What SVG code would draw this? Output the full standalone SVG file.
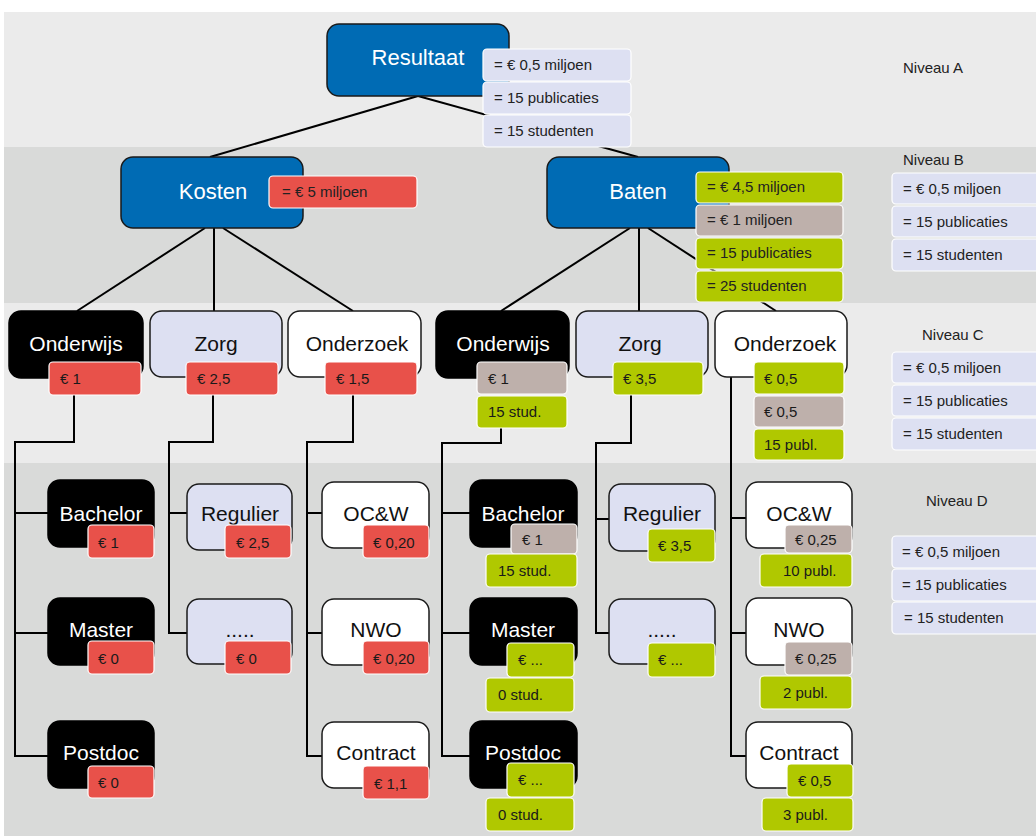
<svg xmlns="http://www.w3.org/2000/svg" width="1036" height="836" viewBox="0 0 1036 836">
<style>
.bl{fill:#ebebeb}.bd{fill:#d9dad9}
.blue{fill:#006bb4;stroke:#1a1a1a;stroke-width:1.5}
.blk{fill:#000;stroke:#000;stroke-width:1.5}
.lav{fill:#dde0f2;stroke:#1a1a1a;stroke-width:1.5}
.wht{fill:#fff;stroke:#1a1a1a;stroke-width:1.5}
.red{fill:#e8514a;stroke:#fff;stroke-width:1.2}
.grn{fill:#b0c800;stroke:#fff;stroke-width:1.2}
.tpe{fill:#beb0ab;stroke:#fff;stroke-width:1.2}
.leg{fill:#dde0f2;stroke:#fff;stroke-width:1.2}
text{font-family:"Liberation Sans",Arial,sans-serif}
.tw{fill:#fff;font-size:21px;text-anchor:middle}
.tb{fill:#111;font-size:21px;text-anchor:middle}
.tbig{fill:#fff;font-size:22px;text-anchor:middle}
.tv{fill:#1a1a1a;font-size:15px}
.tl{fill:#222;font-size:15px}
.con{fill:none;stroke:#000;stroke-width:2}
</style>
<rect x="0" y="0" width="1036" height="836" fill="#fff"/>
<g id="bands">
<rect class="bl" x="4" y="12" width="1032" height="135"/>
<rect class="bd" x="4" y="147" width="1032" height="156"/>
<rect class="bl" x="4" y="303" width="1032" height="160"/>
<rect class="bd" x="4" y="463" width="1032" height="373"/>
</g>
<g id="connectors">
<line class="con" x1="418" y1="96" x2="210" y2="157"/>
<line class="con" x1="418" y1="96" x2="638" y2="157"/>
<line class="con" x1="205" y1="228" x2="77" y2="311"/>
<line class="con" x1="214" y1="228" x2="214" y2="311"/>
<line class="con" x1="223" y1="228" x2="353" y2="311"/>
<line class="con" x1="630" y1="228" x2="501" y2="311"/>
<line class="con" x1="639" y1="228" x2="639" y2="311"/>
<line class="con" x1="648" y1="228" x2="776" y2="311"/>
<polyline class="con" points="74,395 74,442 15,442 15,756 48,756"/>
<line class="con" x1="15" y1="513" x2="48" y2="513"/>
<line class="con" x1="15" y1="633" x2="48" y2="633"/>
<polyline class="con" points="213,395 213,442 169,442 169,633 187,633"/>
<line class="con" x1="169" y1="513" x2="187" y2="513"/>
<polyline class="con" points="353,395 353,442 307,442 307,756 322,756"/>
<line class="con" x1="307" y1="513" x2="322" y2="513"/>
<line class="con" x1="307" y1="633" x2="322" y2="633"/>
<polyline class="con" points="501,428 501,443 442,443 442,756 470,756"/>
<line class="con" x1="442" y1="513" x2="470" y2="513"/>
<line class="con" x1="442" y1="633" x2="470" y2="633"/>
<polyline class="con" points="631,395 631,443 596,443 596,633 609,633"/>
<line class="con" x1="596" y1="519" x2="609" y2="519"/>
<polyline class="con" points="731,377 731,756 746,756"/>
<line class="con" x1="731" y1="518" x2="746" y2="518"/>
<line class="con" x1="731" y1="633" x2="746" y2="633"/>
</g>
<g id="resultaat">
<rect class="blue" x="327" y="24" width="182" height="72" rx="12"/>
<text class="tbig" x="418" y="65">Resultaat</text>
<rect class="leg" x="483" y="49" width="148" height="32" rx="4"/>
<rect class="leg" x="483" y="82" width="148" height="32" rx="4"/>
<rect class="leg" x="483" y="115" width="148" height="32" rx="4"/>
<text class="tl" x="494" y="70">= € 0,5 miljoen</text>
<text class="tl" x="494" y="103">= 15 publicaties</text>
<text class="tl" x="494" y="136">= 15 studenten</text>
</g>
<g id="kosten">
<rect class="blue" x="121" y="157" width="182" height="71" rx="12"/>
<text class="tbig" x="213" y="199">Kosten</text>
<rect class="red" x="269" y="176" width="148" height="32" rx="4"/>
<text class="tl" x="282" y="197">= € 5 miljoen</text>
</g>
<g id="baten">
<rect class="blue" x="547" y="157" width="182" height="71" rx="12"/>
<text class="tbig" x="638" y="199">Baten</text>
<rect class="grn" x="696" y="172" width="147" height="31" rx="4"/>
<rect class="tpe" x="696" y="205" width="147" height="31" rx="4"/>
<rect class="grn" x="696" y="238" width="147" height="31" rx="4"/>
<rect class="grn" x="696" y="271" width="147" height="31" rx="4"/>
<text class="tl" x="707" y="192">= € 4,5 miljoen</text>
<text class="tl" x="707" y="225">= € 1 miljoen</text>
<text class="tl" x="707" y="258">= 15 publicaties</text>
<text class="tl" x="707" y="291">= 25 studenten</text>
</g>
<g id="onderwijs-k">
<rect class="blk" x="9" y="311" width="134" height="67" rx="12"/>
<text class="tw" x="76" y="351">Onderwijs</text>
<rect class="red" x="49" y="362" width="92" height="33" rx="4"/>
<text class="tv" x="60" y="384">€ 1</text>
</g>
<g id="zorg-k">
<rect class="lav" x="150" y="311" width="132" height="66" rx="12"/>
<text class="tb" x="216" y="351">Zorg</text>
<rect class="red" x="186" y="362" width="92" height="33" rx="4"/>
<text class="tv" x="197" y="384">€ 2,5</text>
</g>
<g id="onderzoek-k">
<rect class="wht" x="288" y="311" width="133" height="66" rx="12"/>
<text class="tb" x="357" y="351">Onderzoek</text>
<rect class="red" x="325" y="362" width="92" height="33" rx="4"/>
<text class="tv" x="336" y="384">€ 1,5</text>
</g>
<g id="onderwijs-b">
<rect class="blk" x="436" y="311" width="133" height="67" rx="12"/>
<text class="tw" x="503" y="351">Onderwijs</text>
<rect class="tpe" x="477" y="362" width="90" height="32" rx="4"/>
<text class="tv" x="488" y="384">€ 1</text>
<rect class="grn" x="477" y="396" width="90" height="32" rx="4"/>
<text class="tv" x="488" y="417">15 stud.</text>
</g>
<g id="zorg-b">
<rect class="lav" x="576" y="311" width="132" height="66" rx="12"/>
<text class="tb" x="640" y="351">Zorg</text>
<rect class="grn" x="613" y="362" width="90" height="33" rx="4"/>
<text class="tv" x="623" y="384">€ 3,5</text>
</g>
<g id="onderzoek-b">
<rect class="wht" x="715" y="311" width="132" height="66" rx="12"/>
<text class="tb" x="785" y="351">Onderzoek</text>
<rect class="grn" x="754" y="362" width="90" height="32" rx="4"/>
<text class="tv" x="764" y="384">€ 0,5</text>
<rect class="tpe" x="754" y="396" width="90" height="31" rx="4"/>
<text class="tv" x="764" y="417">€ 0,5</text>
<rect class="grn" x="754" y="429" width="90" height="31" rx="4"/>
<text class="tv" x="764" y="450">15 publ.</text>
</g>
<g id="bachelor-k">
<rect class="blk" x="48" y="480" width="106" height="67" rx="12"/>
<text class="tw" x="101" y="521">Bachelor</text>
<rect class="red" x="88" y="525" width="66" height="33" rx="4"/>
<text class="tv" x="98" y="548">€ 1</text>
</g>
<g id="master-k">
<rect class="blk" x="48" y="598" width="106" height="67" rx="12"/>
<text class="tw" x="101" y="637">Master</text>
<rect class="red" x="88" y="641" width="66" height="33" rx="4"/>
<text class="tv" x="98" y="664">€ 0</text>
</g>
<g id="postdoc-k">
<rect class="blk" x="48" y="721" width="106" height="67" rx="12"/>
<text class="tw" x="101" y="760">Postdoc</text>
<rect class="red" x="88" y="766" width="66" height="32" rx="4"/>
<text class="tv" x="98" y="788">€ 0</text>
</g>
<g id="regulier-k">
<rect class="lav" x="187" y="484" width="105" height="66" rx="12"/>
<text class="tb" x="240" y="521">Regulier</text>
<rect class="red" x="225" y="525" width="66" height="33" rx="4"/>
<text class="tv" x="236" y="548">€ 2,5</text>
</g>
<g id="overig-k">
<rect class="lav" x="187" y="599" width="105" height="65" rx="12"/>
<text class="tb" x="240" y="637">.....</text>
<rect class="red" x="225" y="641" width="66" height="33" rx="4"/>
<text class="tv" x="236" y="664">€ 0</text>
</g>
<g id="ocw-k">
<rect class="wht" x="322" y="482" width="107" height="66" rx="12"/>
<text class="tb" x="376" y="521">OC&amp;W</text>
<rect class="red" x="363" y="525" width="66" height="33" rx="4"/>
<text class="tv" x="373" y="548">€ 0,20</text>
</g>
<g id="nwo-k">
<rect class="wht" x="322" y="599" width="107" height="66" rx="12"/>
<text class="tb" x="376" y="637">NWO</text>
<rect class="red" x="363" y="641" width="66" height="33" rx="4"/>
<text class="tv" x="373" y="664">€ 0,20</text>
</g>
<g id="contract-k">
<rect class="wht" x="322" y="722" width="107" height="66" rx="12"/>
<text class="tb" x="376" y="760">Contract</text>
<rect class="red" x="363" y="766" width="66" height="33" rx="4"/>
<text class="tv" x="374" y="789">€ 1,1</text>
</g>
<g id="bachelor-b">
<rect class="blk" x="470" y="480" width="107" height="67" rx="12"/>
<text class="tw" x="523" y="521">Bachelor</text>
<rect class="tpe" x="511" y="524" width="66" height="30" rx="4"/>
<text class="tv" x="522" y="545">€ 1</text>
<rect class="grn" x="486" y="554" width="91" height="33" rx="4"/>
<text class="tv" x="498" y="576">15 stud.</text>
</g>
<g id="master-b">
<rect class="blk" x="470" y="598" width="107" height="67" rx="12"/>
<text class="tw" x="523" y="637">Master</text>
<rect class="grn" x="507" y="643" width="67" height="34" rx="4"/>
<text class="tv" x="518" y="665">€ ...</text>
<rect class="grn" x="486" y="678" width="88" height="34" rx="4"/>
<text class="tv" x="498" y="700">0 stud.</text>
</g>
<g id="postdoc-b">
<rect class="blk" x="470" y="721" width="107" height="67" rx="12"/>
<text class="tw" x="523" y="760">Postdoc</text>
<rect class="grn" x="507" y="763" width="67" height="34" rx="4"/>
<text class="tv" x="518" y="785">€ ...</text>
<rect class="grn" x="486" y="798" width="88" height="33" rx="4"/>
<text class="tv" x="498" y="820">0 stud.</text>
</g>
<g id="regulier-b">
<rect class="lav" x="609" y="484" width="106" height="67" rx="12"/>
<text class="tb" x="662" y="521">Regulier</text>
<rect class="grn" x="648" y="529" width="67" height="33" rx="4"/>
<text class="tv" x="658" y="551">€ 3,5</text>
</g>
<g id="overig-b">
<rect class="lav" x="609" y="599" width="106" height="65" rx="12"/>
<text class="tb" x="662" y="637">.....</text>
<rect class="grn" x="648" y="643" width="67" height="34" rx="4"/>
<text class="tv" x="658" y="665">€ ...</text>
</g>
<g id="ocw-b">
<rect class="wht" x="746" y="482" width="106" height="66" rx="12"/>
<text class="tb" x="799" y="521">OC&amp;W</text>
<rect class="tpe" x="785" y="525" width="67" height="28" rx="4"/>
<text class="tv" x="795" y="545">€ 0,25</text>
<rect class="grn" x="760" y="554" width="92" height="33" rx="4"/>
<text class="tv" x="783" y="576">10 publ.</text>
</g>
<g id="nwo-b">
<rect class="wht" x="746" y="598" width="106" height="67" rx="12"/>
<text class="tb" x="799" y="637">NWO</text>
<rect class="tpe" x="785" y="642" width="67" height="33" rx="4"/>
<text class="tv" x="795" y="664">€ 0,25</text>
<rect class="grn" x="760" y="676" width="92" height="33" rx="4"/>
<text class="tv" x="783" y="698">2 publ.</text>
</g>
<g id="contract-b">
<rect class="wht" x="746" y="722" width="106" height="66" rx="12"/>
<text class="tb" x="799" y="760">Contract</text>
<rect class="grn" x="787" y="764" width="66" height="33" rx="4"/>
<text class="tv" x="798" y="786">€ 0,5</text>
<rect class="grn" x="762" y="798" width="91" height="33" rx="4"/>
<text class="tv" x="783" y="820">3 publ.</text>
</g>
<g id="legend">
<text class="tl" x="903" y="73">Niveau A</text>
<text class="tl" x="903" y="165">Niveau B</text>
<rect class="leg" x="892" y="173" width="160" height="31" rx="4"/>
<rect class="leg" x="892" y="206" width="160" height="31" rx="4"/>
<rect class="leg" x="892" y="239" width="160" height="32" rx="4"/>
<text class="tl" x="903" y="194">= € 0,5 miljoen</text>
<text class="tl" x="903" y="227">= 15 publicaties</text>
<text class="tl" x="903" y="260">= 15 studenten</text>
<text class="tl" x="922" y="340">Niveau C</text>
<rect class="leg" x="892" y="352" width="160" height="31" rx="4"/>
<rect class="leg" x="892" y="385" width="160" height="31" rx="4"/>
<rect class="leg" x="892" y="418" width="160" height="32" rx="4"/>
<text class="tl" x="903" y="373">= € 0,5 miljoen</text>
<text class="tl" x="903" y="406">= 15 publicaties</text>
<text class="tl" x="903" y="439">= 15 studenten</text>
<text class="tl" x="926" y="506">Niveau D</text>
<rect class="leg" x="892" y="536" width="160" height="32" rx="4"/>
<rect class="leg" x="892" y="569" width="160" height="32" rx="4"/>
<rect class="leg" x="892" y="602" width="160" height="32" rx="4"/>
<text class="tl" x="902" y="557">= € 0,5 miljoen</text>
<text class="tl" x="902" y="590">= 15 publicaties</text>
<text class="tl" x="904" y="623">= 15 studenten</text>
</g>
</svg>
